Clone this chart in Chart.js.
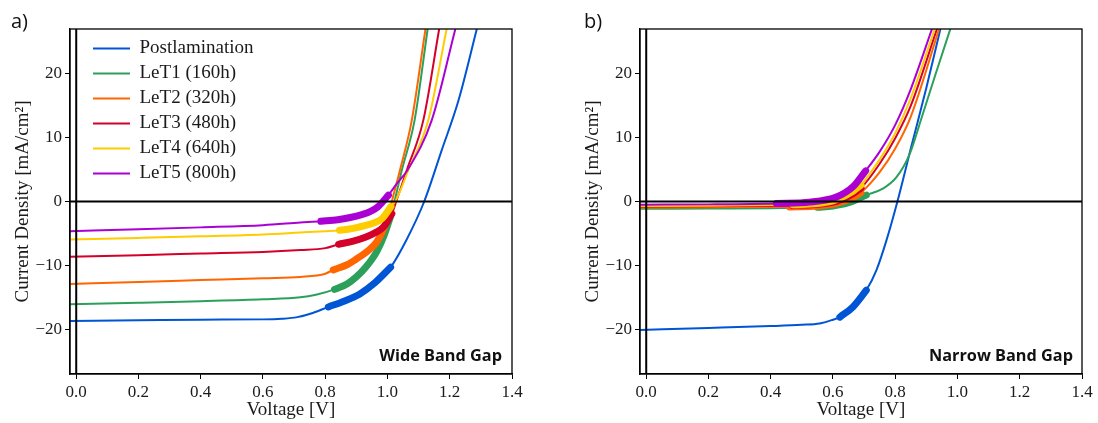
<!DOCTYPE html>
<html>
<head>
<meta charset="utf-8">
<title>JV curves - wide and narrow band gap</title>
<script src="https://cdn.jsdelivr.net/npm/chart.js@4.4.0/dist/chart.umd.min.js"></script>
<style>
  body { margin: 0; width: 1098px; height: 423px; background: #fff; overflow: hidden; position: relative; }
  .panel { position: absolute; top: 0; width: 549px; height: 423px; }
  .tag { position: absolute; font-family: "Open Sans", sans-serif; font-size: 20px; color: #111; }
  .gap { position: absolute; font-family: "Open Sans", sans-serif; font-weight: 700; font-size: 16.3px; color: #111; }
</style>
</head>
<body>
<div class="panel" style="left:0"><canvas id="wide" width="549" height="423"></canvas></div>
<div class="panel" style="left:549px"><canvas id="narrow" width="549" height="423"></canvas></div>
<div class="tag" style="left:11px;top:7px">a)</div>
<div class="tag" style="left:584px;top:7px">b)</div>
<div class="gap" style="right:596px;top:344px">Wide Band Gap</div>
<div class="gap" style="right:25px;top:344px">Narrow Band Gap</div>

<script>
// series
const seriesNames = ['Postlamination', 'LeT1 (160h)', 'LeT2 (320h)', 'LeT3 (480h)', 'LeT4 (640h)', 'LeT5 (800h)'];
const seriesColors = ['#0055d4', '#2ca05a', '#ff6600', '#d4002a', '#ffcc00', '#aa00d4'];

// axis ticks
const voltTicks = [0, 0.2, 0.4, 0.6, 0.8, 1.0, 1.2, 1.4];
const currentTicks = [-20, -10, 0, 10, 20];

// a) wide band gap, voltage [V] / current density [mA/cm2]
const wideVolt = [
    [-0.02, 0.2, 0.4, 0.6, 0.66, 0.71, 0.76, 0.81, 0.86, 0.91, 0.96, 1.01, 1.06, 1.118, 1.174, 1.228, 1.287],
    [-0.02, 0.2, 0.4, 0.6, 0.72, 0.77, 0.83, 0.87, 0.9, 0.93, 0.966, 0.99, 1.012, 1.046, 1.087, 1.129],
    [-0.02, 0.2, 0.4, 0.6, 0.72, 0.8, 0.826, 0.87, 0.9, 0.94, 0.966, 0.99, 1.004, 1.014, 1.04, 1.078, 1.122],
    [-0.02, 0.2, 0.4, 0.6, 0.72, 0.8, 0.843, 0.89, 0.933, 0.96, 0.987, 1.014, 1.028, 1.062, 1.115, 1.166],
    [-0.02, 0.2, 0.4, 0.6, 0.72, 0.8, 0.846, 0.89, 0.933, 0.96, 0.982, 1.011, 1.025, 1.067, 1.131, 1.19],
    [-0.02, 0.2, 0.4, 0.6, 0.72, 0.786, 0.84, 0.88, 0.92, 0.944, 0.97, 1.003, 1.03, 1.064, 1.142, 1.218]
];
const wideCurrent = [
    [-18.7, -18.6, -18.5, -18.45, -18.35, -18.1, -17.45, -16.5, -15.6, -14.5, -12.7, -10.3, -6.1, 0, 8.0, 15.8, 27],
    [-16.1, -15.85, -15.6, -15.3, -15.0, -14.6, -13.75, -12.9, -11.8, -10.3, -7.8, -5.2, -2.0, 4.9, 12.7, 27],
    [-12.9, -12.6, -12.3, -12.0, -11.8, -11.3, -10.7, -9.9, -9.0, -7.6, -6.3, -4.0, -2.0, 0, 4.9, 12.7, 27],
    [-8.65, -8.4, -8.15, -7.9, -7.6, -7.3, -6.7, -6.2, -5.5, -4.9, -4.0, -1.9, 0, 4.9, 12.7, 27],
    [-5.95, -5.7, -5.45, -5.15, -4.85, -4.65, -4.5, -4.2, -3.7, -3.3, -2.7, -0.8, 0, 4.9, 12.7, 27],
    [-4.65, -4.35, -4.05, -3.7, -3.3, -3.1, -2.85, -2.5, -2.0, -1.6, -0.8, 1.0, 2.8, 4.9, 12.7, 27]
];
// bold part of each curve (MPP tracking range)
const wideMppFrom = [0.81, 0.83, 0.826, 0.843, 0.846, 0.786];
const wideMppTo = [1.01, 1.012, 1.004, 1.014, 1.011, 1.003];

// b) narrow band gap
const narrowVolt = [
    [-0.02, 0.2, 0.4, 0.5, 0.557, 0.6, 0.622, 0.664, 0.707, 0.74, 0.772, 0.807, 0.85, 0.9, 0.945],
    [-0.02, 0.2, 0.4, 0.55, 0.6, 0.65, 0.707, 0.76, 0.804, 0.847, 0.884, 0.93, 0.977],
    [-0.02, 0.2, 0.4, 0.46, 0.55, 0.611, 0.664, 0.69, 0.75, 0.8, 0.85, 0.941],
    [-0.02, 0.2, 0.4, 0.47, 0.55, 0.611, 0.664, 0.69, 0.75, 0.8, 0.85, 0.934],
    [-0.02, 0.2, 0.4, 0.47, 0.55, 0.611, 0.664, 0.69, 0.75, 0.8, 0.85, 0.927],
    [-0.02, 0.2, 0.418, 0.525, 0.611, 0.664, 0.705, 0.75, 0.8, 0.85, 0.918]
];
const narrowCurrent = [
    [-20.1, -19.8, -19.5, -19.3, -19.1, -18.5, -18.1, -16.5, -13.9, -10.7, -6.05, 0, 8.3, 17.8, 27],
    [-1.15, -1.1, -1.05, -0.9, -0.7, -0.2, 1.0, 2.0, 3.8, 7.5, 13.0, 20.0, 27],
    [-0.95, -0.9, -0.85, -0.85, -0.7, -0.3, 0.6, 1.4, 4.6, 8.3, 13.3, 27],
    [-0.8, -0.75, -0.65, -0.6, -0.45, 0.0, 1.2, 2.1, 5.9, 9.9, 15.0, 27],
    [-0.7, -0.65, -0.55, -0.5, -0.3, 0.3, 1.6, 2.6, 6.6, 10.7, 16.2, 27],
    [-0.5, -0.45, -0.3, -0.1, 0.7, 2.3, 4.8, 7.8, 12.0, 17.6, 27]
];
const narrowMppFrom = [0.622, 0.55, 0.46, 0.47, 0.47, 0.418];
const narrowMppTo = [0.707, 0.707, 0.69, 0.69, 0.69, 0.705];

const serif = "'Liberation Serif', serif";
const textColor = '#1a1a1a';

function buildDatasets(volts, currents, mppFrom, mppTo) {
    const sets = [];
    volts.forEach((v, i) => {
        const pts = v.map((x, k) => ({ x: x, y: currents[i][k] }));
        sets.push({
            label: seriesNames[i],
            data: pts,
            borderColor: seriesColors[i],
            borderWidth: 2,
            order: 20 - 2 * i
        });
        sets.push({
            label: seriesNames[i] + ' MPP',
            mpp: true,
            data: pts.filter(p => p.x >= mppFrom[i] && p.x <= mppTo[i]),
            borderColor: seriesColors[i],
            borderWidth: 7,
            borderCapStyle: 'round',
            order: 19 - 2 * i
        });
    });
    return sets;
}

// frame around the plot + the zero lines
const framePlugin = {
    id: 'frame',
    afterDatasetsDraw(chart) {
        const { ctx, chartArea: a, scales: { x, y } } = chart;
        const x0 = x.getPixelForValue(0);
        const y0 = y.getPixelForValue(0);
        ctx.save();
        ctx.strokeStyle = '#000';
        ctx.lineWidth = 2;
        ctx.beginPath();
        ctx.moveTo(a.left, y0);
        ctx.lineTo(a.right, y0);
        ctx.moveTo(x0, a.top);
        ctx.lineTo(x0, a.bottom);
        ctx.stroke();
        ctx.lineWidth = 1.3;
        ctx.strokeRect(a.left, a.top, a.right - a.left, a.bottom - a.top);
        ctx.restore();
    }
};

// legend sits inside the plot, a bit away from the frame
const legendShift = {
    id: 'legendShift',
    afterLayout(chart) {
        if (chart.legend && chart.options.plugins.legend.display) {
            chart.legend.left = chart.chartArea.left + 17;
            chart.legend.top = chart.chartArea.top + 4;
        }
    }
};

function makeChart(id, volts, currents, mppFrom, mppTo, opts) {
    return new Chart(document.getElementById(id), {
        type: 'line',
        data: { datasets: buildDatasets(volts, currents, mppFrom, mppTo) },
        options: {
            responsive: false,
            devicePixelRatio: 1,
            animation: false,
            events: [],
            layout: { padding: { left: 0, top: 29, right: opts.padRight, bottom: 0 } },
            elements: {
                point: { radius: 0 },
                line: { cubicInterpolationMode: 'monotone', fill: false }
            },
            datasets: { line: { clip: 0 } },
            scales: {
                x: {
                    type: 'linear',
                    min: -0.02,
                    max: 1.4,
                    afterBuildTicks: s => { s.ticks = voltTicks.map(v => ({ value: v })); },
                    afterFit: s => { s.height = 49; },
                    grid: { drawOnChartArea: false, drawTicks: true, tickLength: 5, tickColor: '#000', color: '#000' },
                    border: { display: true, color: '#000', width: 1.3 },
                    ticks: {
                        padding: 3,
                        color: textColor,
                        font: { family: serif, size: 17 },
                        maxRotation: 0,
                        callback: v => v.toFixed(1)
                    },
                    title: {
                        display: true,
                        text: 'Voltage [V]',
                        color: textColor,
                        font: { family: serif, size: 19 },
                        padding: { top: 0, bottom: 2 }
                    }
                },
                y: {
                    type: 'linear',
                    min: -27,
                    max: 27,
                    afterBuildTicks: s => { s.ticks = currentTicks.map(v => ({ value: v })); },
                    afterFit: s => { s.width = opts.yWidth; },
                    grid: { drawOnChartArea: false, drawTicks: true, tickLength: 5, tickColor: '#000', color: '#000' },
                    border: { display: true, color: '#000', width: 1.3 },
                    ticks: {
                        padding: 3,
                        color: textColor,
                        font: { family: serif, size: 17 },
                        callback: v => (v < 0 ? '\u2212' + Math.abs(v) : String(v))
                    },
                    title: {
                        display: true,
                        text: 'Current Density [mA/cm\u00b2]',
                        color: textColor,
                        font: { family: serif, size: 19 },
                        padding: { top: opts.titlePad, bottom: 0 }
                    }
                }
            },
            plugins: {
                tooltip: { enabled: false },
                legend: {
                    display: opts.legend,
                    position: 'chartArea',
                    align: 'start',
                    labels: {
                        usePointStyle: true,
                        pointStyle: 'line',
                        pointStyleWidth: 37,
                        padding: 6,
                        color: textColor,
                        font: { family: serif, size: 19 },
                        filter: (item, data) => !data.datasets[item.datasetIndex].mpp,
                        sort: (a, b) => a.datasetIndex - b.datasetIndex
                    }
                }
            }
        },
        plugins: [framePlugin, legendShift]
    });
}

makeChart('wide', wideVolt, wideCurrent, wideMppFrom, wideMppTo,
    { padRight: 37, yWidth: 70, titlePad: 12, legend: true });
makeChart('narrow', narrowVolt, narrowCurrent, narrowMppFrom, narrowMppTo,
    { padRight: 16, yWidth: 91, titlePad: 33, legend: false });
</script>
</body>
</html>
